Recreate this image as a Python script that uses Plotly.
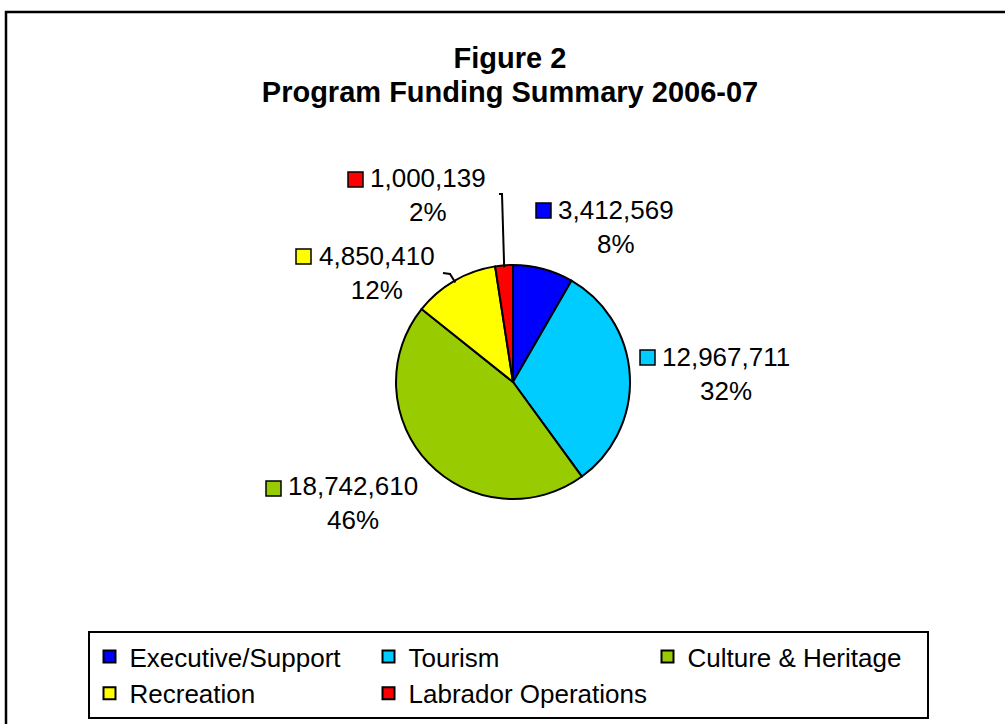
import math
import plotly.graph_objects as go

# ---- data ----
categories = ["Executive/Support", "Tourism", "Culture & Heritage", "Recreation", "Labrador Operations"]
values = [3412569, 12967711, 18742610, 4850410, 1000139]
colors = ["#0000FF", "#00CCFF", "#99CC00", "#FFFF00", "#FF0000"]
title_lines = ["Figure 2", "Program Funding Summary 2006-07"]

# ---- layout (pixels) ----
W, H = 1005, 724
CX, CY, R = 513, 382, 117
label_centers = [(615.5, 227), (725.5, 373.5), (352.5, 503), (376.5, 273), (428, 195)]
key_boxes = [(536, 203), (640, 350), (266, 481), (296, 249), (348, 172)]
KEY = 15
leader_starts = [None, None, None, [(443, 273), (450, 274)], [(499, 194), (502, 194)]]
FONT = "Liberation Sans, Arial, Helvetica, sans-serif"


def px(x):
    return x / W


def py(y):
    return 1 - y / H


total = sum(values)
fig = go.Figure()
fig.add_trace(go.Pie(
    labels=categories, values=values, sort=False, direction="clockwise", rotation=0,
    marker=dict(colors=colors, line=dict(color="black", width=2)),
    textinfo="none", hoverinfo="label+value+percent",
    domain=dict(x=[px(CX - R), px(CX + R)], y=[py(CY + R), py(CY - R)]),
))

shapes = []
annotations = []
# outer frame
shapes.append(dict(type="rect", xref="paper", yref="paper", x0=px(6), x1=1.02, y0=-0.02, y1=py(12),
                   line=dict(color="black", width=2.5), fillcolor="rgba(0,0,0,0)", layer="below"))

cum = 0
for i, v in enumerate(values):
    frac_mid = (cum + v / 2) / total
    cum += v
    pct = round(v / total * 100)
    lx, ly = label_centers[i]
    annotations.append(dict(xref="paper", yref="paper", x=px(lx), y=py(ly), xanchor="center", yanchor="middle",
                            showarrow=False, align="center",
                            text=f"{v:,}<br>{pct}%", font=dict(family=FONT, size=26, color="black")))
    kx, ky = key_boxes[i]
    shapes.append(dict(type="rect", xref="paper", yref="paper", x0=px(kx), x1=px(kx + KEY),
                       y0=py(ky + KEY), y1=py(ky), fillcolor=colors[i], line=dict(color="black", width=1.5)))
    if leader_starts[i]:
        ang = 2 * math.pi * frac_mid
        ex = CX + (R - 2) * math.sin(ang)
        ey = CY - (R - 2) * math.cos(ang)
        pts = leader_starts[i] + [(ex, ey)]
        path = "M " + " L ".join(f"{px(x):.5f},{py(y):.5f}" for x, y in pts)
        shapes.append(dict(type="path", xref="paper", yref="paper", path=path,
                           line=dict(color="black", width=2)))

title_text = "<b><span style='font-size:29px'>" + "<br>".join(title_lines) + "</span></b>"

fig.update_layout(
    width=W, height=H,
    margin=dict(l=0, r=0, t=0, b=0),
    paper_bgcolor="white", plot_bgcolor="white",
    font=dict(family=FONT, color="black"),
    title=dict(text=title_text, x=px(510), xanchor="center",
               yref="container", y=py(68), yanchor="top", font=dict(family=FONT, size=26, color="black")),
    legend=dict(orientation="h", x=px(508), xanchor="center", y=py(631), yanchor="top",
                bordercolor="black", borderwidth=2, bgcolor="white", traceorder="normal",
                font=dict(family=FONT, size=26, color="black"),
                entrywidth=234, entrywidthmode="pixels"),
    shapes=shapes, annotations=annotations,
)

fig.write_html("out.html", config={"displayModeBar": False},
               post_script="document.body.style.margin='0';")
